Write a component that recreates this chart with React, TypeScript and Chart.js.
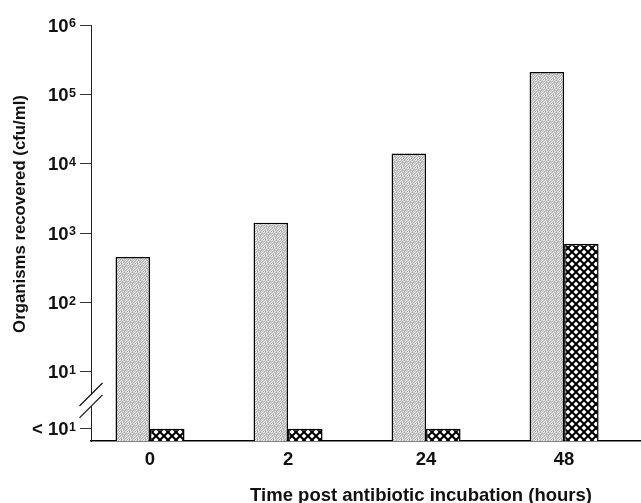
import React, { useEffect, useRef } from 'react';
import { Chart, registerables } from 'chart.js';

Chart.register(...registerables);

// ---- data ----
const categories = ['0', '2', '24', '48'];
const xPositions = [0, 1, 2, 3];
const stippledSeries = [450, 1400, 14000, 210000];
const hatchedSeries = [1.5, 1.5, 1.5, 700];
const yTickValues = [1.5, 10, 100, 1000, 10000, 100000, 1000000];
const yTickBase = ['< 10', '10', '10', '10', '10', '10', '10'];
const yTickExp = ['1', '1', '2', '3', '4', '5', '6'];
const yTitle = 'Organisms recovered (cfu/ml)';
const xTitle = 'Time post antibiotic incubation (hours)';
const axisBreakLow = Math.pow(10, 0.5);
const axisBreakHigh = Math.pow(10, 0.67);

const FONT = '"Liberation Sans", Arial, Helvetica, sans-serif';

// texture tile for the stippled fill (grey levels)
const STIPPLE_TILE = [
  [215, 180, 235, 195, 170, 225, 190, 240],
  [190, 230, 165, 210, 235, 185, 205, 175],
  [235, 175, 205, 185, 200, 165, 230, 200],
  [170, 210, 190, 240, 175, 215, 180, 225],
  [205, 235, 180, 165, 225, 195, 240, 185],
  [230, 185, 225, 200, 185, 235, 170, 210],
  [180, 200, 240, 175, 210, 180, 200, 235],
  [240, 170, 195, 230, 190, 205, 225, 165],
];

function makeStipple(): CanvasPattern | string {
  const n = STIPPLE_TILE.length;
  const c = document.createElement('canvas');
  c.width = n;
  c.height = n;
  const g = c.getContext('2d');
  if (!g) return '#cccccc';
  for (let i = 0; i < n; i++) {
    for (let j = 0; j < n; j++) {
      const v = STIPPLE_TILE[j][i];
      g.fillStyle = `rgb(${v},${v},${v})`;
      g.fillRect(i, j, 1, 1);
    }
  }
  return g.createPattern(c, 'repeat') || '#cccccc';
}

function makeHatch(): CanvasPattern | string {
  const s = 8;
  const c = document.createElement('canvas');
  c.width = s;
  c.height = s;
  const g = c.getContext('2d');
  if (!g) return '#444';
  g.fillStyle = '#ffffff';
  g.fillRect(0, 0, s, s);
  g.strokeStyle = '#000000';
  g.lineWidth = 2;
  for (let k = -1; k <= 1; k++) {
    g.beginPath();
    g.moveTo(k * s, 0);
    g.lineTo(k * s + s, s);
    g.stroke();
    g.beginPath();
    g.moveTo(k * s + s, 0);
    g.lineTo(k * s, s);
    g.stroke();
  }
  return g.createPattern(c, 'repeat') || '#444';
}

const decor = {
  id: 'decor',
  afterDraw(chart: any) {
    const { ctx, chartArea, scales } = chart;
    const y = scales.y;
    const x = scales.x;
    ctx.save();
    ctx.fillStyle = '#111';
    const right = chartArea.left - 15;
    yTickValues.forEach((v, i) => {
      const py = y.getPixelForValue(v);
      ctx.textAlign = 'right';
      ctx.textBaseline = 'alphabetic';
      ctx.font = `bold 12.5px ${FONT}`;
      const ew = ctx.measureText(yTickExp[i]).width;
      ctx.fillText(yTickExp[i], right, py + 2.3);
      ctx.font = `bold 18.5px ${FONT}`;
      ctx.fillText(yTickBase[i], right - ew - 0.5, py + 6.5);
    });

    // axis break
    const ax = chartArea.left;
    const yHi = y.getPixelForValue(axisBreakHigh);
    const yLo = y.getPixelForValue(axisBreakLow);
    ctx.fillStyle = '#ffffff';
    ctx.fillRect(ax - 2, yHi, 4, yLo - yHi);
    ctx.strokeStyle = '#111';
    ctx.lineWidth = 1.2;
    [yHi, yLo].forEach((cy) => {
      ctx.beginPath();
      ctx.moveTo(ax - 11.5, cy + 11.5);
      ctx.lineTo(ax + 11.5, cy - 11.5);
      ctx.stroke();
    });

    // titles
    ctx.fillStyle = '#111';
    ctx.font = `bold 18.5px ${FONT}`;
    ctx.textAlign = 'center';
    ctx.textBaseline = 'alphabetic';
    const xc = (x.getPixelForValue(0) + x.getPixelForValue(3)) / 2 + 64;
    ctx.fillText(xTitle, xc, chartArea.bottom + 60);

    ctx.font = `bold 16.8px ${FONT}`;
    ctx.save();
    ctx.translate(20, (chartArea.top + chartArea.bottom) / 2 - 19);
    ctx.rotate(-Math.PI / 2);
    ctx.textBaseline = 'middle';
    ctx.fillText(yTitle, 0, 0);
    ctx.restore();
    ctx.restore();
  },
};

export default function App() {
  const ref = useRef<HTMLCanvasElement | null>(null);
  useEffect(() => {
    if (!ref.current) return;
    const stipple = makeStipple();
    const hatch = makeHatch();
    const chart = new Chart(ref.current, {
      type: 'bar',
      data: {
        datasets: [
          {
            label: 'stippled',
            data: stippledSeries.map((v, i) => ({ x: xPositions[i], y: v })),
            backgroundColor: stipple as any,
            borderColor: '#000',
            borderWidth: 1.5,
            categoryPercentage: 0.5,
            barPercentage: 1,
          },
          {
            label: 'hatched',
            data: hatchedSeries.map((v, i) => ({ x: xPositions[i], y: v })),
            backgroundColor: hatch as any,
            borderColor: '#000',
            borderWidth: 1.5,
            categoryPercentage: 0.5,
            barPercentage: 1,
          },
        ],
      },
      options: {
        animation: false,
        responsive: false,
        layout: { padding: { top: 25, right: 1, left: 0, bottom: 0 } },
        plugins: { legend: { display: false }, tooltip: { enabled: false } },
        scales: {
          x: {
            type: 'linear',
            offset: false,
            min: -0.4275,
            max: 3.55,
            afterBuildTicks: (s: any) => {
              s.ticks = xPositions.map((v) => ({ value: v }));
            },
            afterFit: (s: any) => {
              s.height = 62;
            },
            grid: { display: false, drawTicks: false, offset: false },
            border: { display: true, color: '#000', width: 1.5 },
            ticks: {
              callback: (v: any) => categories[v] ?? '',
              font: { size: 18.5, weight: 'bold', family: FONT },
              color: '#111',
              padding: 8,
              maxRotation: 0,
              autoSkip: false,
            },
          },
          y: {
            type: 'logarithmic',
            min: 1,
            max: 1000000,
            afterBuildTicks: (s: any) => {
              s.ticks = yTickValues.map((v) => ({ value: v }));
            },
            afterFit: (s: any) => {
              s.width = 91;
            },
            grid: { drawOnChartArea: false, drawTicks: true, tickLength: 11, color: '#333', lineWidth: 1 },
            border: { display: true, color: '#222', width: 1 },
            ticks: { display: false },
          },
        },
      } as any,
      plugins: [decor],
    });
    return () => chart.destroy();
  }, []);
  return (
    <div style={{ position: 'fixed', left: 0, top: 0, width: 641, height: 503, background: '#fff' }}>
      <canvas ref={ref} width={641} height={503} style={{ display: 'block' }} />
    </div>
  );
}
